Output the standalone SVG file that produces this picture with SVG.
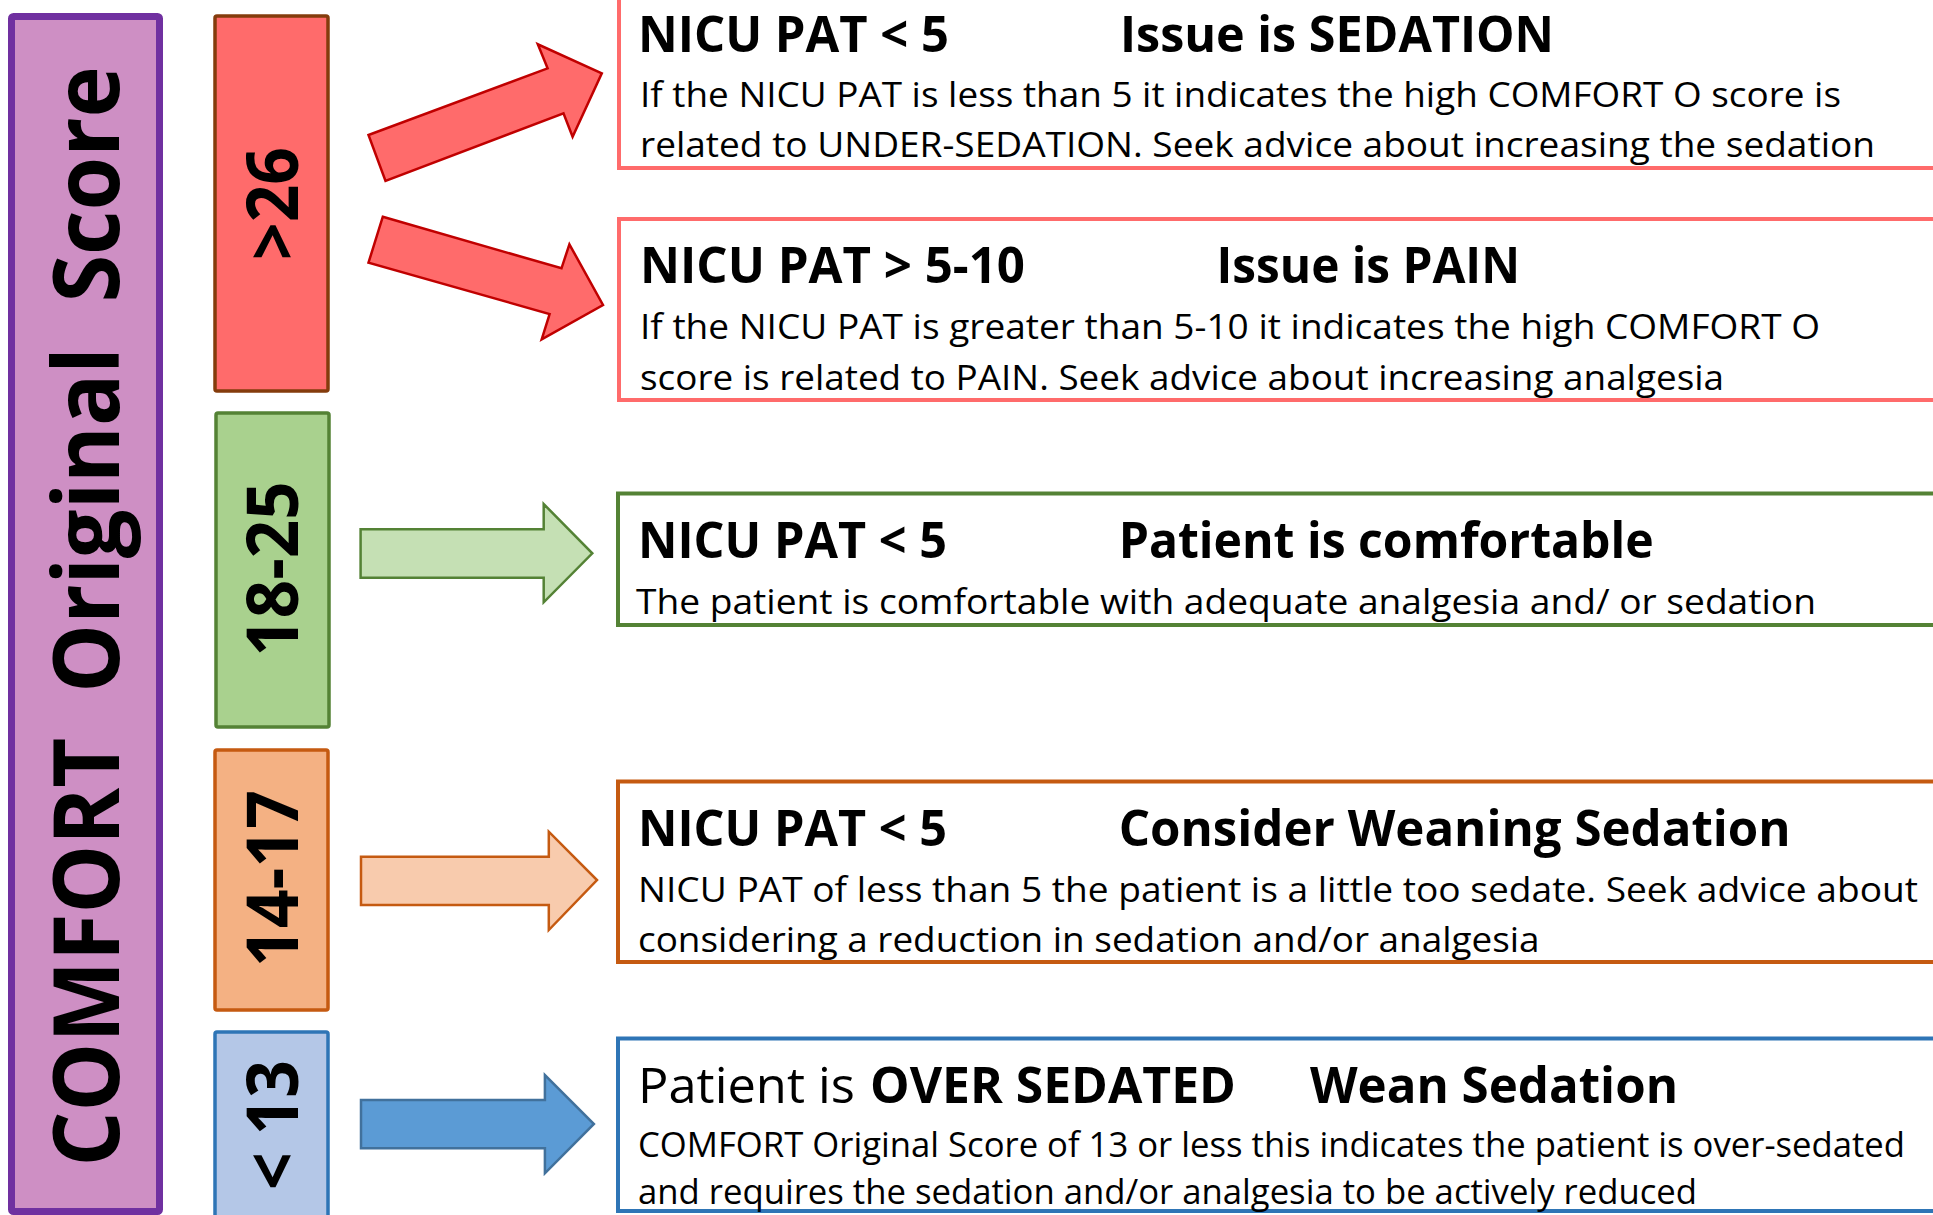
<svg xmlns="http://www.w3.org/2000/svg" width="1933" height="1215" viewBox="0 0 1933 1215">
<style>
text{font-family:"Open Sans","Noto Sans","DejaVu Sans",sans-serif;fill:#000}
.t{font-size:50px;font-weight:bold}
.b{font-size:34px}
.r{font-size:72px;font-weight:bold}
.big{font-size:92px;font-weight:bold}
.arr{stroke-width:2.5;stroke-linejoin:miter}
</style>
<rect width="1933" height="1215" fill="#fff"/>
<g id="title">
<rect x="11.5" y="16.5" width="148" height="1195" rx="2" fill="#CE8FC4" stroke="#7030A0" stroke-width="7"/>
<text class="big" transform="translate(119,616.5) rotate(-90)" text-anchor="middle" xml:space="preserve" textLength="1100" lengthAdjust="spacingAndGlyphs">COMFORT  Original  Score</text>
</g>
<g id="range-26">
<rect x="215" y="16" width="113" height="375" rx="2" fill="#FF6B6B" stroke="#843C0C" stroke-width="3.5"/>
<text class="r" transform="translate(298,203.5) rotate(-90)" text-anchor="middle" textLength="113" lengthAdjust="spacingAndGlyphs">&gt;26</text>
</g>
<g id="range-18-25">
<rect x="216" y="413" width="113" height="314" rx="2" fill="#A9D18E" stroke="#548235" stroke-width="3.5"/>
<text class="r" transform="translate(298,569) rotate(-90)" text-anchor="middle" textLength="175" lengthAdjust="spacingAndGlyphs">18-25</text>
</g>
<g id="range-14-17">
<rect x="215" y="750" width="113" height="260" rx="2" fill="#F4B183" stroke="#C55A11" stroke-width="3.5"/>
<text class="r" transform="translate(298,878.5) rotate(-90)" text-anchor="middle" textLength="177" lengthAdjust="spacingAndGlyphs">14-17</text>
</g>
<g id="range-13">
<rect x="215" y="1032" width="113" height="200" rx="2" fill="#B4C7E7" stroke="#2E75B6" stroke-width="3.5"/>
<text class="r" transform="translate(298,1125) rotate(-90)" text-anchor="middle" textLength="130" lengthAdjust="spacingAndGlyphs">&lt; 13</text>
</g>
<g id="connectors">
<polygon class="arr" fill="#FF6B6B" stroke="#C00000" points="368.5,135 547.6,68.3 537.8,44.3 601.8,73.3 572.6,136.7 563.5,113.3 385.5,181"/>
<polygon class="arr" fill="#FF6B6B" stroke="#C00000" points="382.8,216.7 561.5,268.3 569.4,244.3 603,305 541.7,339.3 549.6,314 368.5,262.7"/>
<polygon class="arr" fill="#C5E0B4" stroke="#548235" points="360.6,529.3 543.7,529.3 543.7,504 592.3,553.3 543.7,602.3 543.7,577.7 360.6,577.7"/>
<polygon class="arr" fill="#F8CBAD" stroke="#C55A11" points="361,856.7 548.8,856.7 548.8,831.7 597,880 548.8,930 548.8,905 361,905"/>
<polygon class="arr" fill="#5B9BD5" stroke="#41719C" points="361,1100 544.9,1100 544.9,1075 593.9,1124 544.9,1173.3 544.9,1148.3 361,1148.3"/>
</g>
<g id="box-sedation">
<rect x="619" y="-10" width="1400" height="178" fill="#fff" stroke="#FF6B6B" stroke-width="4"/>
<text class="t" x="638" y="51.7" textLength="311" lengthAdjust="spacingAndGlyphs">NICU PAT &lt; 5</text>
<text class="t" x="1120" y="51.7" textLength="434" lengthAdjust="spacingAndGlyphs">Issue is SEDATION</text>
<text class="b" x="640" y="106.7" textLength="1201" lengthAdjust="spacingAndGlyphs">If the NICU PAT is less than 5 it indicates the high COMFORT O score is</text>
<text class="b" x="640" y="156.7" textLength="1235" lengthAdjust="spacingAndGlyphs">related to UNDER-SEDATION. Seek advice about increasing the sedation</text>
</g>
<g id="box-pain">
<rect x="619" y="219" width="1400" height="181" fill="#fff" stroke="#FF6B6B" stroke-width="4"/>
<text class="t" x="640" y="283.3" textLength="385" lengthAdjust="spacingAndGlyphs">NICU PAT &gt; 5-10</text>
<text class="t" x="1216.5" y="283.3" textLength="303.5" lengthAdjust="spacingAndGlyphs">Issue is PAIN</text>
<text class="b" x="640" y="339.3" textLength="1180" lengthAdjust="spacingAndGlyphs">If the NICU PAT is greater than 5-10 it indicates the high COMFORT O</text>
<text class="b" x="640" y="390" textLength="1084" lengthAdjust="spacingAndGlyphs">score is related to PAIN. Seek advice about increasing analgesia</text>
</g>
<g id="box-comfortable">
<rect x="618" y="493.5" width="1400" height="131.5" fill="#fff" stroke="#548235" stroke-width="4"/>
<text class="t" x="638" y="558.3" textLength="309" lengthAdjust="spacingAndGlyphs">NICU PAT &lt; 5</text>
<text class="t" x="1118.7" y="558.3" textLength="535" lengthAdjust="spacingAndGlyphs">Patient is comfortable</text>
<text class="b" x="636" y="614" textLength="1180" lengthAdjust="spacingAndGlyphs">The patient is comfortable with adequate analgesia and/ or sedation</text>
</g>
<g id="box-weaning">
<rect x="618" y="781.5" width="1400" height="180.5" fill="#fff" stroke="#C55A11" stroke-width="4"/>
<text class="t" x="638" y="846" textLength="309" lengthAdjust="spacingAndGlyphs">NICU PAT &lt; 5</text>
<text class="t" x="1118.7" y="846" textLength="672" lengthAdjust="spacingAndGlyphs">Consider Weaning Sedation</text>
<text class="b" x="638" y="901.7" textLength="1280" lengthAdjust="spacingAndGlyphs">NICU PAT of less than 5 the patient is a little too sedate. Seek advice about</text>
<text class="b" x="638" y="951.7" textLength="901.6" lengthAdjust="spacingAndGlyphs">considering a reduction in sedation and/or analgesia</text>
</g>
<g id="box-over-sedated">
<rect x="618" y="1038.5" width="1400" height="172.5" fill="#fff" stroke="#2E75B6" stroke-width="4"/>
<text class="t" x="638" y="1102.7" style="font-weight:normal" textLength="217" lengthAdjust="spacingAndGlyphs">Patient is</text>
<text class="t" x="870" y="1102.7" textLength="366" lengthAdjust="spacingAndGlyphs">OVER SEDATED</text>
<text class="t" x="1310" y="1102.7" textLength="368" lengthAdjust="spacingAndGlyphs">Wean Sedation</text>
<text class="b" x="638" y="1156.7" textLength="1267" lengthAdjust="spacingAndGlyphs">COMFORT Original Score of 13 or less this indicates the patient is over-sedated</text>
<text class="b" x="638" y="1204" textLength="1059" lengthAdjust="spacingAndGlyphs">and requires the sedation and/or analgesia to be actively reduced</text>
</g>
</svg>
